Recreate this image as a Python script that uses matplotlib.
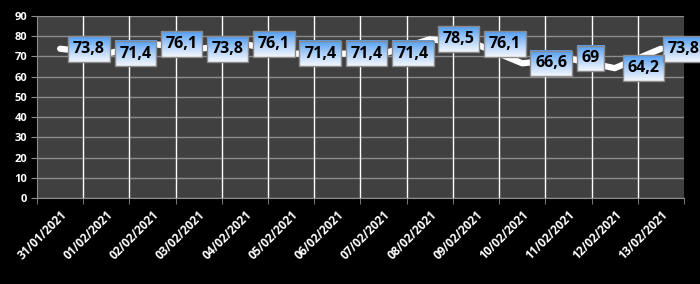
import numpy as np
import matplotlib
matplotlib.use('Agg')
import matplotlib.pyplot as plt
from matplotlib.colors import LinearSegmentedColormap

plt.rcParams['font.family'] = ['Open Sans', 'DejaVu Sans']

# data
dates = ['31/01/2021', '01/02/2021', '02/02/2021', '03/02/2021', '04/02/2021',
         '05/02/2021', '06/02/2021', '07/02/2021', '08/02/2021', '09/02/2021',
         '10/02/2021', '11/02/2021', '12/02/2021', '13/02/2021']
values = [73.8, 71.4, 76.1, 73.8, 76.1, 71.4, 71.4, 71.4, 78.5, 76.1, 66.6, 69, 64.2, 73.8]
labels = ['73,8', '71,4', '76,1', '73,8', '76,1', '71,4', '71,4', '71,4',
          '78,5', '76,1', '66,6', '69', '64,2', '73,8']

fig = plt.figure(figsize=(7, 2.84), dpi=100, facecolor='black')
ax = fig.add_axes([37/700, 1-198/284, 647/700, 182/284])
ax.set_facecolor('#404040')

x = np.arange(len(values))
ax.plot(x, values, color='white', lw=4.5, solid_joinstyle='round',
        solid_capstyle='round', zorder=3)

ax.set_xlim(-0.5, len(values) - 0.5)
ax.set_ylim(0, 90)
ax.set_yticks(range(0, 91, 10))
ax.yaxis.grid(True, color='#8c8c8c', lw=1)
# vertical white lines between categories
for b in np.arange(0.5, len(values) - 0.5, 1):
    ax.axvline(b, color='white', lw=1, zorder=1)
ax.set_axisbelow(True)

ax.set_xticks(np.arange(-0.5, len(values), 1), minor=True)
ax.set_xticks(x)
ax.set_xticklabels(dates, rotation=45, ha='right', rotation_mode='anchor',
                   color='white', fontsize=8.5, fontweight='bold')
ax.tick_params(axis='x', which='major', length=0, pad=7)
ax.tick_params(axis='x', which='minor', length=4, color='#8c8c8c', direction='out')
ax.tick_params(axis='y', length=4, color='#8c8c8c', labelcolor='white',
               labelsize=8, pad=3)
for t in ax.get_yticklabels():
    t.set_fontweight('bold')

for s in ['top', 'right']:
    ax.spines[s].set_visible(False)
for s in ['left', 'bottom']:
    ax.spines[s].set_color('#8c8c8c')

# data labels with gradient boxes
texts = []
for i, (xi, v, lab) in enumerate(zip(x, values, labels)):
    dx = 13 if i < len(values) - 1 else 7
    t = ax.annotate(lab, (xi, v), xytext=(dx, 0), textcoords='offset pixels',
                    ha='left', va='center', fontsize=11.5, fontweight='bold', color='black',
                    bbox=dict(boxstyle='square,pad=0.3', fc='none', ec='#8a8a8a', lw=1),
                    zorder=6, annotation_clip=False)
    texts.append(t)

fig.canvas.draw()
cmap = LinearSegmentedColormap.from_list('g', ['#4f9cf2', '#a9cdf7', '#f4f7fd'])
grad = np.linspace(0, 1, 64).reshape(-1, 1)
inv = ax.transData.inverted()
for t in texts:
    bb = t.get_bbox_patch().get_window_extent()
    (x0, y0) = inv.transform((bb.x0, bb.y0))
    (x1, y1) = inv.transform((bb.x1, bb.y1))
    ax.imshow(grad, cmap=cmap, extent=(x0, x1, y0, y1), origin='upper', aspect='auto',
              zorder=5, clip_on=False, interpolation='bilinear')
ax.set_xlim(-0.5, len(values) - 0.5)
ax.set_ylim(0, 90)

fig.savefig('out.png', dpi=100, facecolor='black')
